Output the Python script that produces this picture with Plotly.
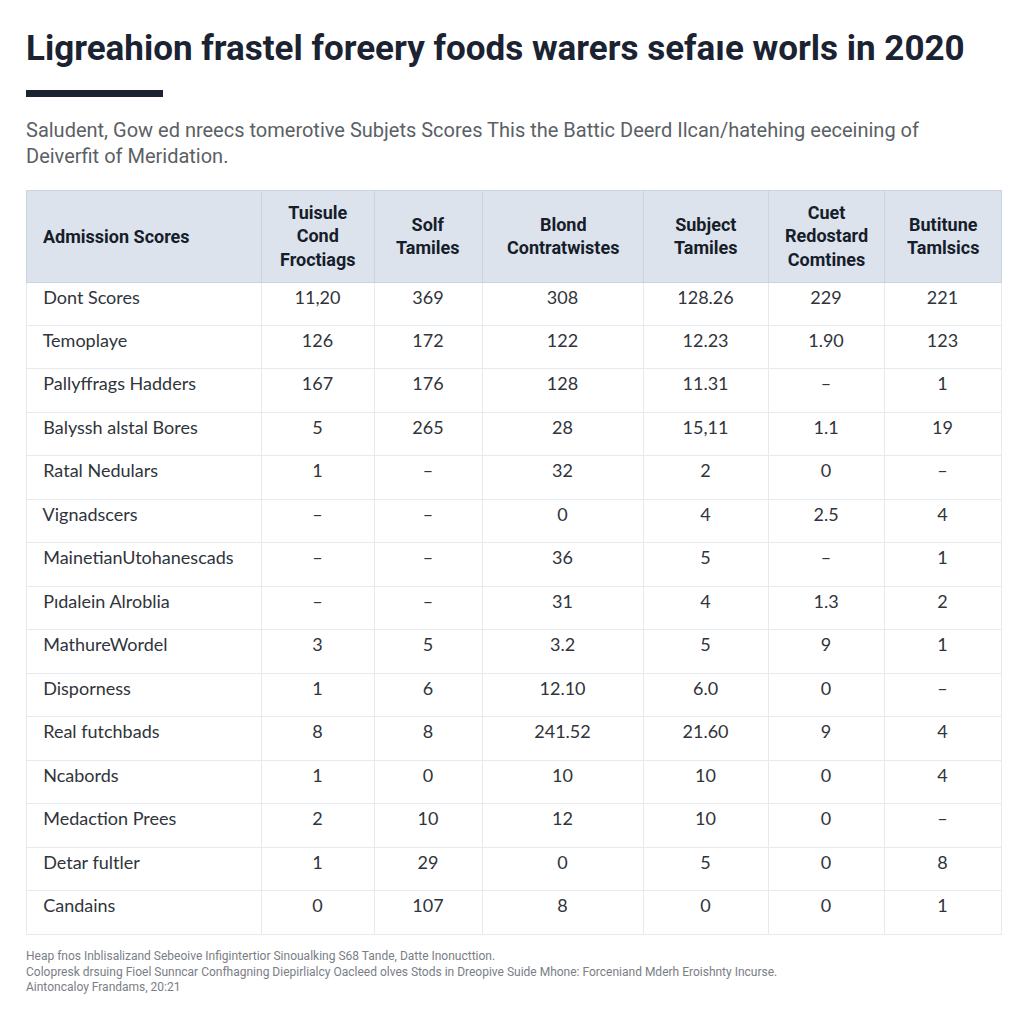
import plotly.graph_objects as go

# ---- data ----
header_labels = [
    ["Admission Scores"],
    ["Tuisule", "Cond", "Froctiags"],
    ["Solf", "Tamiles"],
    ["Blond", "Contratwistes"],
    ["Subject", "Tamiles"],
    ["Cuet", "Redostard", "Comtines"],
    ["Butitune", "Tamlsics"],
]
row_labels = [
    "Dont Scores", "Temoplaye", "Pallyffrags Hadders", "Balyssh alstal Bores",
    "Ratal Nedulars", "Vignadscers", "MainetianUtohanescads", "Pıdalein Alroblia",
    "MathureWordel", "Disporness", "Real futchbads", "Ncabords",
    "Medaction Prees", "Detar fultler", "Candains",
]
col_tuisule = ["11,20", "126", "167", "5", "1", "–", "–", "–", "3", "1", "8", "1", "2", "1", "0"]
col_solf = ["369", "172", "176", "265", "–", "–", "–", "–", "5", "6", "8", "0", "10", "29", "107"]
col_blond = ["308", "122", "128", "28", "32", "0", "36", "31", "3.2", "12.10", "241.52", "10", "12", "0", "8"]
col_subject = ["128.26", "12.23", "11.31", "15,11", "2", "4", "5", "4", "5", "6.0", "21.60", "10", "10", "5", "0"]
col_cuet = ["229", "1.90", "–", "1.1", "0", "2.5", "–", "1.3", "9", "0", "9", "0", "0", "0", "0"]
col_butitune = ["221", "123", "1", "19", "–", "4", "1", "2", "1", "–", "4", "4", "–", "8", "1"]

title_text = "Ligreahion frastel foreery foods warers sefaıe worls in 2020"
subtitle_text = ("Saludent, Gow ed nreecs tomerotive Subjets Scores This the Battic Deerd Ilcan/hatehing eeceining of<br>"
                 "Deiverfit of Meridation.")
footer_text = ("Heap fnos Inblisalizand Sebeoive Infigintertior Sinoualking S68 Tande, Datte Inonucttion.<br>"
               "Colopresk drsuing Fioel Sunncar Confhagning Diepirlialcy Oacleed olves Stods in Dreopive Suide Mhone: Forceniand Mderh Eroishnty Incurse.<br>"
               "Aintoncaloy Frandams, 20:21")

# ---- layout ----
W = H = 1024
OFF = 8  # page body margin
def py(y):
    return 1 - (y - OFF) / H
def px(x):
    return (x - OFF) / W

col_widths = [235, 113, 108, 161, 125, 116, 117]
left, right = 26, 1001
top, header_bottom, bottom = 190, 282, 934
header_h = header_bottom - top
row_h = (bottom - header_bottom) / len(row_labels)

pad = "\u00a0\u00a0"
fig = go.Figure()
fig.add_trace(go.Table(
    domain=dict(x=[px(left), px(right)], y=[py(bottom + 4), py(top)]),
    columnwidth=col_widths,
    header=dict(
        values=[""] * len(header_labels),
        fill_color="#dde3ec",
        line_color="#cbd3de",
        height=header_h,
    ),
    cells=dict(
        values=[[pad + r for r in row_labels], col_tuisule, col_solf, col_blond,
                col_subject, col_cuet, col_butitune],
        fill_color="white",
        line_color="#e6e9ee",
        align=["left"] + ["center"] * 6,
        font=dict(family="Lato, Open Sans, Arial", size=18, color="#30343b"),
        height=row_h,
    ),
))

# header labels centred in their columns
scale = (right - left) / sum(col_widths)
x_edge = left
for i, (lines, w) in enumerate(zip(header_labels, col_widths)):
    cw = w * scale
    if i == 0:
        xa, anchor = x_edge + 15, "left"
    else:
        xa, anchor = x_edge + cw / 2, "center"
    fig.add_annotation(text="<br>".join(lines), xref="paper", yref="paper",
                       x=px(xa), y=py((top + header_bottom) / 2), xanchor=anchor, yanchor="middle",
                       align="center", showarrow=False,
                       font=dict(family="Roboto, Arial", size=18, color="#161d2b", weight="bold"))
    x_edge += cw

fig.add_shape(type="rect", xref="paper", yref="paper",
              x0=px(26), x1=px(163), y0=py(97), y1=py(90),
              fillcolor="#1b2333", line_width=0)

fig.add_annotation(text=f"<b>{title_text}</b>", xref="paper", yref="paper",
                   x=px(24), y=py(48), xanchor="left", yanchor="middle", showarrow=False,
                   font=dict(family="Roboto, Arial", size=35, color="#1b2333"))
fig.add_annotation(text=subtitle_text, xref="paper", yref="paper", align="left",
                   x=px(24), y=py(116), xanchor="left", yanchor="top", showarrow=False,
                   font=dict(family="Roboto, Arial", size=20, color="#5b5f66"))
fig.add_annotation(text=footer_text, xref="paper", yref="paper", align="left",
                   x=px(24), y=py(947), xanchor="left", yanchor="top", showarrow=False,
                   font=dict(family="Roboto, Arial", size=12, color="#7a7e85"))

fig.update_layout(width=W, height=H, margin=dict(l=0, r=0, t=0, b=0),
                  paper_bgcolor="white", plot_bgcolor="white")
fig.write_html("out.html")
